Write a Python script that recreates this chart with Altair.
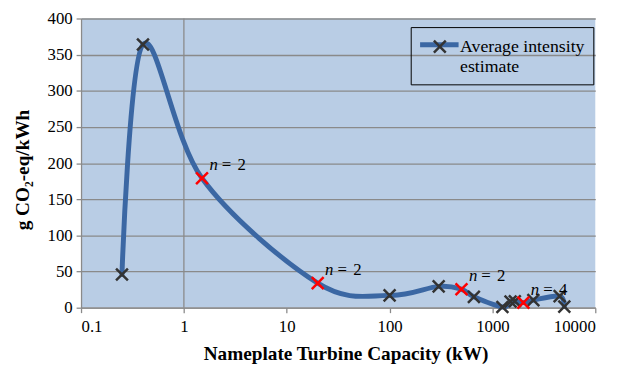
import altair as alt
import pandas as pd

# ---- data ----
capacity_kw = [0.25, 0.4, 1.5, 20, 100, 300, 500, 660, 1250, 1500, 1650, 2000, 2500, 4500, 5000]
intensity = [46, 364, 179, 34, 17, 29.5, 25.5, 15, 1, 8.5, 9, 7, 10.5, 16, 1.5]
labeled_capacity = [1.5, 20, 500, 2000]
labeled_n = ["2", "2", "2", "4"]
x_ticks = [0.1, 1, 10, 100, 1000, 10000]
y_ticks = [0, 50, 100, 150, 200, 250, 300, 350, 400]
series_name = "Average intensity estimate"
legend_lines = ["Average intensity", "estimate"]

df = pd.DataFrame({"cap": capacity_kw, "val": intensity})
df["multi"] = df["cap"].isin(labeled_capacity)
df["series"] = series_name
df["marker"] = "m"
lab = df[df["multi"]].copy()
lab["n"] = labeled_n

SERIF = "Liberation Serif"
X_PATH = "M-1,-1L1,1M-1,1L1,-1"
LINE_BLUE = "#3B67A3"
GRID = "#8A8A8A"

common_axis = dict(
    labelFont=SERIF, labelFontSize=17, labelColor="black",
    titleFont=SERIF, titleFontSize=19.5, titleFontWeight="bold", titleColor="black",
    domainColor=GRID, domainWidth=1.3, tickColor=GRID, tickWidth=1.3, tickSize=5,
    gridColor=GRID, gridWidth=1.3,
)

X = alt.X(
    "cap:Q",
    scale=alt.Scale(type="log", domain=[0.1, 10000]),
    axis=alt.Axis(
        values=x_ticks,
        labelExpr="datum.value < 1 ? '0.1' : format(datum.value, 'd')",
        grid=False, labelPadding=6,
        title="Nameplate Turbine Capacity (kW)",
        titleX=268, titleY=52.4, titleBaseline="alphabetic", titleAlign="center",
        **common_axis,
    ),
)
Y = alt.Y(
    "val:Q",
    scale=alt.Scale(domain=[0, 400], nice=False),
    axis=alt.Axis(
        values=y_ticks, tickCount=9,
        grid=True, labelPadding=4,
        title="g CO₂-eq/kWh",
        titleAngle=-90, titleX=-53, titleY=153, titleBaseline="alphabetic", titleAlign="center",
        **common_axis,
    ),
)

base = alt.Chart(df)

vrule = alt.Chart(pd.DataFrame({"cap": [1]})).mark_rule(color=GRID, strokeWidth=1.3).encode(x=X)

line = base.mark_line(interpolate="cardinal", strokeWidth=5, strokeCap="round").encode(
    x=X,
    y=Y,
    color=alt.Color(
        "series:N",
        scale=alt.Scale(range=[LINE_BLUE]),
        legend=alt.Legend(
            orient="none", legendX=334, legendY=8.7,
            title=None,
            symbolType="M-2,-0.27L2,-0.27", symbolSize=380, symbolStrokeWidth=5,
            symbolStrokeColor=LINE_BLUE, symbolOffset=8.5,
            labelExpr=str(legend_lines).replace('"', "'"),
            labelFont=SERIF, labelFontSize=18, labelColor="black",
            labelLimit=300, labelOffset=8.5,
            padding=8, strokeColor="black", fillColor="transparent",
        ),
    ),
)

black_pts = base.transform_filter("!datum.multi").mark_point(
    shape=X_PATH, filled=False, stroke="#333333", strokeWidth=2.5, size=144, opacity=1
).encode(
    x=X, y=Y,
    shape=alt.Shape(
        "marker:N",
        scale=alt.Scale(range=[X_PATH]),
        legend=alt.Legend(
            orient="none", legendX=356, legendY=21,
            title=None, labelExpr="''", labelFontSize=1,
            symbolSize=144, symbolStrokeWidth=2.5, symbolStrokeColor="#333333",
            symbolFillColor="transparent", padding=0,
        ),
    ),
)

red_pts = base.transform_filter("datum.multi").mark_point(
    shape=X_PATH, filled=False, stroke="#FF0000", strokeWidth=2.5, size=144, opacity=1
).encode(x=X, y=Y)

lab_base = alt.Chart(lab).encode(x=X, y=Y)
t_n = lab_base.mark_text(
    text="n", font=SERIF, fontStyle="italic", fontSize=17, align="left",
    baseline="alphabetic", dx=7.5, dy=-8, color="black"
)
t_eq = lab_base.mark_text(
    text="=", font=SERIF, fontSize=17, align="left",
    baseline="alphabetic", dx=20, dy=-8, color="black"
)
t_num = lab_base.mark_text(
    font=SERIF, fontSize=17, align="left",
    baseline="alphabetic", dx=36, dy=-8, color="black"
).encode(text="n:N")

chart = (
    alt.layer(vrule, line, black_pts, red_pts, t_n, t_eq, t_num)
    .resolve_legend(color="independent", shape="independent")
    .properties(
        width=521, height=293,
        autosize=alt.AutoSizeParams(type="none"),
        padding={"left": 74, "top": 8.3, "right": 22, "bottom": 55},
    )
    .configure_view(fill="#B9CDE5", stroke=None)
    .configure_text(font=SERIF)
)

chart.save("out.html", embed_options={"renderer": "svg", "actions": False})
